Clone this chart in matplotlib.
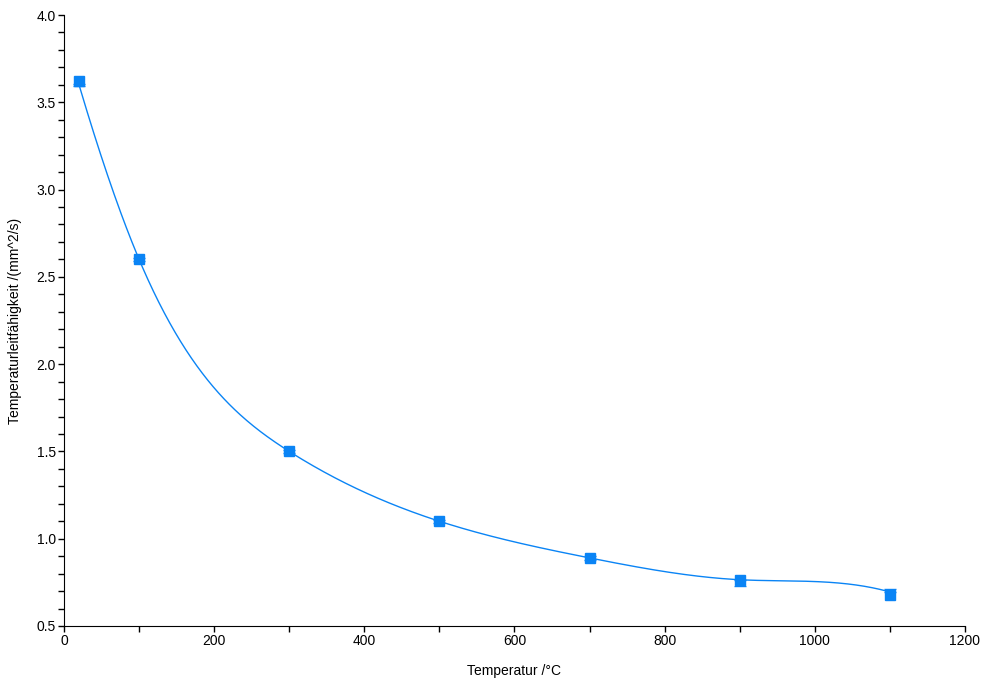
import numpy as np
import matplotlib
matplotlib.use("Agg")
import matplotlib.pyplot as plt
from matplotlib.ticker import MultipleLocator, FormatStrFormatter

# messwerte (marker)
temp = [20, 100, 300, 500, 700, 900, 1100]
diff = [3.62, 2.60, 1.50, 1.10, 0.89, 0.765, 0.675]
# mittelwerte + streuung (fehlerbalken, kurve)
mittel = [3.60, 2.60, 1.50, 1.10, 0.89, 0.765, 0.695]
err_unten = [0.005, 0.01, 0.01, 0.01, 0.01, 0.035, 0.0]
err_oben = [0.005, 0.01, 0.01, 0.01, 0.01, 0.0, 0.015]
# steigung an den enden der kurve
s_start = -0.0145
s_ende = -0.0012

farbe = "#0a84f5"
plt.rcParams["font.family"] = ["Liberation Sans", "DejaVu Sans"]
plt.rcParams["font.size"] = 10


def spline(x, y, xs, d0, dn):
    # kubischer spline mit vorgegebener randsteigung
    x = np.asarray(x, float)
    y = np.asarray(y, float)
    n = len(x)
    h = np.diff(x)
    A = np.zeros((n, n))
    b = np.zeros(n)
    A[0, 0] = 2 * h[0]
    A[0, 1] = h[0]
    b[0] = 6 * ((y[1] - y[0]) / h[0] - d0)
    A[-1, -2] = h[-1]
    A[-1, -1] = 2 * h[-1]
    b[-1] = 6 * (dn - (y[-1] - y[-2]) / h[-1])
    for i in range(1, n - 1):
        A[i, i - 1] = h[i - 1]
        A[i, i] = 2 * (h[i - 1] + h[i])
        A[i, i + 1] = h[i]
        b[i] = 6 * ((y[i + 1] - y[i]) / h[i] - (y[i] - y[i - 1]) / h[i - 1])
    M = np.linalg.solve(A, b)
    idx = np.clip(np.searchsorted(x, xs) - 1, 0, n - 2)
    x0, x1 = x[idx], x[idx + 1]
    hh = x1 - x0
    t0 = x1 - xs
    t1 = xs - x0
    return (M[idx] * t0**3 / (6 * hh) + M[idx + 1] * t1**3 / (6 * hh)
            + (y[idx] / hh - M[idx] * hh / 6) * t0
            + (y[idx + 1] / hh - M[idx + 1] * hh / 6) * t1)


fig = plt.figure(figsize=(9.94, 6.92), dpi=100)
ax = fig.add_axes([0.0644, 0.0954, 0.9064, 0.8829])

xs = np.linspace(temp[0], temp[-1], 600)
ax.plot(xs, spline(temp, mittel, xs, s_start, s_ende), color=farbe, lw=1)
ax.errorbar(temp, mittel, yerr=[err_unten, err_oben], fmt="none", ecolor=farbe,
            elinewidth=1, capsize=4, capthick=1)
ax.plot(temp, diff, "s", color=farbe, ms=7, ls="none", zorder=5)

ax.set_xlim(0, 1200)
ax.set_ylim(0.5, 4.0)
ax.xaxis.set_major_locator(MultipleLocator(200))
ax.xaxis.set_minor_locator(MultipleLocator(100))
ax.yaxis.set_major_locator(MultipleLocator(0.5))
ax.yaxis.set_minor_locator(MultipleLocator(0.1))
ax.yaxis.set_major_formatter(FormatStrFormatter("%.1f"))
ax.tick_params(which="both", direction="out", length=4, width=1, pad=2)
ax.spines["top"].set_visible(False)
ax.spines["right"].set_visible(False)

ax.set_xlabel("Temperatur /°C", labelpad=11)
ax.set_ylabel("Temperaturleitfähigkeit /(mm^2/s)", labelpad=10)

fig.savefig("out.png", dpi=100)
